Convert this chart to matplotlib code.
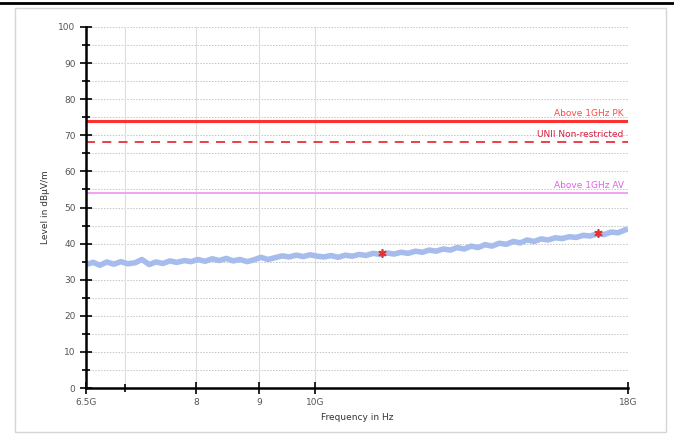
import numpy as np
import matplotlib
matplotlib.use("Agg")
import matplotlib.pyplot as plt
from matplotlib.patches import Rectangle
from matplotlib.lines import Line2D
from matplotlib.ticker import FixedLocator, NullFormatter, MultipleLocator

# trace (GHz, dBuV/m)
freq = [6.50, 6.59, 6.67, 6.76, 6.85, 6.94, 7.03, 7.13, 7.22, 7.32, 7.41, 7.51,
        7.61, 7.71, 7.82, 7.92, 8.02, 8.13, 8.24, 8.35, 8.46, 8.57, 8.68, 8.80,
        8.91, 9.03, 9.15, 9.27, 9.40, 9.52, 9.65, 9.78, 9.90, 10.04, 10.17, 10.30,
        10.44, 10.58, 10.72, 10.86, 11.00, 11.15, 11.30, 11.45, 11.60, 11.75, 11.91,
        12.07, 12.23, 12.39, 12.55, 12.72, 12.89, 13.06, 13.23, 13.41, 13.58, 13.76,
        13.94, 14.13, 14.32, 14.51, 14.70, 14.89, 15.09, 15.29, 15.49, 15.70, 15.91,
        16.12, 16.33, 16.55, 16.76, 16.99, 17.21, 17.44, 17.67, 17.90, 18.00]
level = [34.2, 34.8, 34.0, 34.9, 34.3, 35.0, 34.4, 34.7, 35.6, 34.2, 34.9, 34.5,
         35.2, 34.8, 35.3, 35.0, 35.6, 35.1, 35.8, 35.3, 35.9, 35.2, 35.6, 35.0,
         35.5, 36.2, 35.6, 36.1, 36.6, 36.3, 36.8, 36.4, 36.9, 36.5, 36.3, 36.7,
         36.2, 36.8, 36.5, 37.0, 36.7, 37.3, 37.0, 37.4, 37.1, 37.6, 37.3,
         37.9, 37.6, 38.2, 37.9, 38.5, 38.2, 38.9, 38.5, 39.3, 38.9, 39.7,
         39.3, 40.1, 39.8, 40.6, 40.2, 41.0, 40.6, 41.3, 41.0, 41.6, 41.4,
         41.9, 41.7, 42.3, 42.1, 42.7, 42.5, 43.2, 43.0, 43.8, 44.0]

peak_freq = [11.34, 17.0]
peak_level = [37.5, 42.8]

limit_pk = 74.0
limit_unii = 68.2
limit_av = 54.0

xticks = [6.5, 8, 9, 10, 18]
xlabels = ["6.5G", "8", "9", "10G", "18G"]

fig = plt.figure(figsize=(6.74, 4.42), dpi=100)
ax = fig.add_axes([86/674, 1 - 388/442, (628 - 86)/674, (388 - 27)/442])

# frame and top rule
fig.patches.append(Rectangle((15/674, 1 - 432/442), 651/674, 424/442,
                             transform=fig.transFigure, fill=False,
                             edgecolor="#d6d6d6", lw=1))
fig.lines.append(Line2D([0, 1], [1 - 3/442, 1 - 3/442], transform=fig.transFigure,
                        color="black", lw=2))

ax.set_xscale("log")
ax.set_xlim(6.5, 18)
ax.set_ylim(0, 100)

for yv in np.arange(5, 101, 5):
    ax.axhline(yv, color="#c4c4c4", lw=0.7, ls=(0, (1.5, 1.5)), zorder=0)
for xv in [7, 8, 9, 10]:
    ax.axvline(xv, color="#dcdcdc", lw=0.8, zorder=0)

ax.plot(freq, level, color="#a6bcec", lw=4, solid_capstyle="butt", zorder=2)
ax.plot(peak_freq, peak_level, ls="none", marker=(6, 2, 0), ms=6,
        color="#e8302e", mew=1.2, zorder=3)

ax.axhline(limit_pk, color="#ff3030", lw=2.2, zorder=2)
ax.axhline(limit_unii, color="#e8303a", lw=1.3, ls=(0, (5, 4)), zorder=2)
ax.axhline(limit_av, color="#ee9cf2", lw=1.3, zorder=2)

ax.text(17.85, limit_pk + 0.8, "Above 1GHz PK", color="#ff4848", fontsize=6.5,
        ha="right", va="bottom")
ax.text(17.85, limit_unii + 0.8, "UNII Non-restricted", color="#d02040", fontsize=6.5,
        ha="right", va="bottom")
ax.text(17.85, limit_av + 0.8, "Above 1GHz AV", color="#e060e8", fontsize=6.5,
        ha="right", va="bottom")

for s in ["top", "right"]:
    ax.spines[s].set_visible(False)
for s in ["left", "bottom"]:
    ax.spines[s].set_linewidth(1.8)

ax.xaxis.set_major_locator(FixedLocator(xticks))
ax.xaxis.set_minor_locator(FixedLocator([7]))
ax.xaxis.set_minor_formatter(NullFormatter())
ax.set_xticklabels(xlabels)
ax.yaxis.set_major_locator(MultipleLocator(10))
ax.yaxis.set_minor_locator(MultipleLocator(5))
ax.tick_params(axis="both", which="both", direction="inout", colors="black",
               labelcolor="#555555", labelsize=6.5, width=1.2)
ax.tick_params(axis="both", which="major", length=8)
ax.tick_params(axis="both", which="minor", length=6)

ax.set_xlabel("Frequency in Hz", fontsize=6.5, color="#333333", labelpad=4)
ax.set_ylabel("Level in dB\u00b5V/m", fontsize=6.5, color="#333333", labelpad=6)

fig.savefig("out.png", dpi=100)
